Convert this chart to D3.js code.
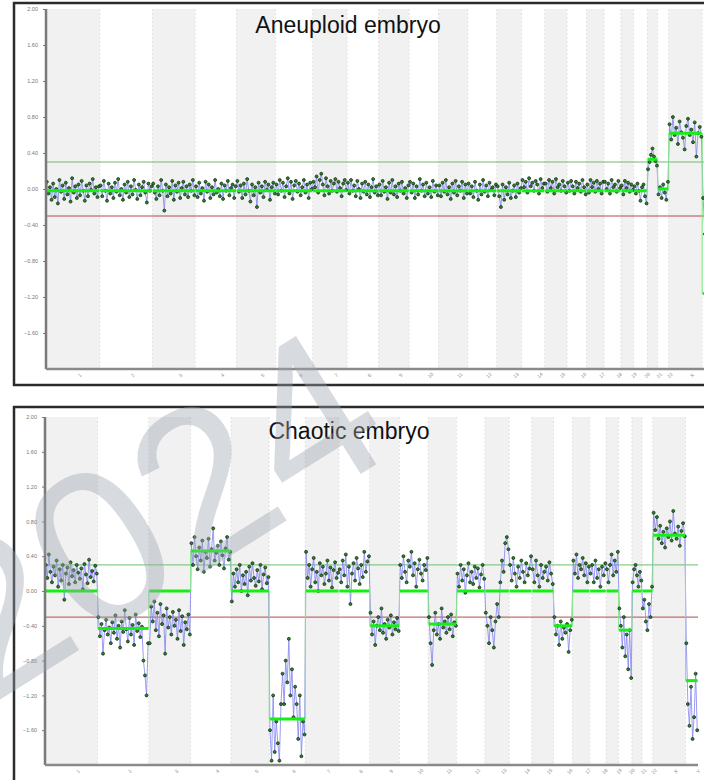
<!DOCTYPE html>
<meta charset="utf-8">
<style>
    body { margin: 0; background: #fff; }
    svg { display: block; font-family: 'Liberation Sans', Arial, sans-serif; }
</style>
<svg width="704" height="780"></svg>
<script src="https://d3js.org/d3.v7.min.js"></script>
<script>

    // chromosome names and sizes (Mb)
    const chroms = ["1", "2", "3", "4", "5", "6", "7", "8", "9", "10", "11", "12", "13", "14", "15", "16", "17", "18", "19", "20", "21", "22", "X", "Y"];
    const chromLen = [249, 243, 198, 191, 181, 171, 159, 146, 141, 136, 135, 134, 115, 107, 103, 90, 81, 78, 59, 63, 48, 51, 155, 59];
    const yTicks = [2.0, 1.6, 1.2, 0.8, 0.4, 0.0, -0.4, -0.8, -1.2, -1.6];
    const gainLine = 0.3, lossLine = -0.3;

    // aneuploid embryo: segment call per chromosome + log2 ratio points
    const aneuSegments = [-0.02, -0.02, -0.02, -0.02, -0.02, -0.02, -0.02, -0.02, -0.02, -0.02, -0.02, -0.02,
        -0.02, -0.02, -0.02, -0.02, -0.02, -0.02, -0.02, -0.02, 0.33, 0.0, 0.62, -1.16];
    const aneuPoints = [
        [0.08, -0.05, 0.02, -0.12, 0.06, -0.09, 0.0, -0.16, 0.1, -0.03, 0.04, -0.11, 0.07, -0.06, 0.01, -0.14, 0.12, -0.04, 0.03, -0.1, 0.05, -0.07, 0.09, -0.02, -0.13, 0.04, -0.08, 0.06, -0.01, 0.11, -0.05, 0.02, -0.09, 0.03],
        [0.04, -0.08, 0.09, -0.02, -0.13, 0.06, -0.05, 0.02, -0.1, 0.07, -0.03, 0.11, -0.07, 0.0, -0.12, 0.05, -0.04, 0.08, -0.09, 0.03, -0.06, 0.1, -0.01, -0.11, 0.05, -0.07, 0.02, 0.08, -0.04, -0.15, 0.06, -0.02, 0.03],
        [0.06, -0.04, -0.11, 0.03, -0.07, 0.1, -0.02, -0.24, 0.05, -0.08, 0.02, -0.05, 0.09, -0.12, 0.04, -0.03, 0.07, -0.1, 0.01, 0.08, -0.06, 0.03, -0.09, 0.05, -0.02, 0.1, -0.07],
        [0.03, -0.09, 0.07, -0.05, 0.01, -0.13, 0.08, -0.03, 0.05, -0.1, 0.02, -0.06, 0.1, -0.04, 0.0, -0.08, 0.06, -0.11, 0.04, -0.02, 0.09, -0.07, 0.01, 0.05, -0.1, 0.03],
        [0.09, -0.03, 0.04, -0.1, 0.06, -0.06, 0.11, -0.02, -0.14, 0.05, -0.07, 0.02, -0.2, 0.07, -0.04, 0.03, -0.09, 0.08, -0.01, 0.05, -0.12, 0.02, 0.07, -0.05],
        [0.05, -0.06, 0.1, -0.02, 0.07, -0.09, 0.03, 0.12, -0.05, 0.08, -0.11, 0.04, 0.09, -0.03, 0.06, -0.07, 0.02, 0.1, -0.04, 0.05, -0.1, 0.07, 0.0],
        [0.08, 0.02, 0.14, -0.04, 0.1, 0.17, 0.05, -0.07, 0.12, 0.03, -0.05, 0.09, -0.02, 0.06, 0.11, -0.03, 0.08, 0.01, -0.08, 0.06, 0.1, -0.01],
        [0.07, -0.05, 0.1, -0.02, 0.04, -0.08, 0.09, 0.0, -0.1, 0.06, -0.03, 0.08, -0.06, 0.05, -0.09, 0.02, 0.11, -0.04, 0.03, -0.07],
        [0.05, -0.07, 0.09, -0.03, 0.02, -0.11, 0.07, -0.04, 0.1, -0.06, 0.03, -0.09, 0.06, -0.02, 0.08, -0.05, 0.01, -0.1, 0.04],
        [0.08, -0.04, 0.06, -0.1, 0.03, -0.06, 0.11, -0.02, 0.05, -0.08, 0.07, -0.05, 0.02, -0.09, 0.09, -0.03, 0.04, -0.07],
        [0.04, -0.08, 0.07, -0.03, 0.1, -0.06, 0.02, -0.11, 0.06, -0.04, 0.09, -0.07, 0.03, -0.02, 0.08, -0.1, 0.05, -0.05],
        [0.06, -0.05, 0.03, -0.09, 0.08, -0.02, -0.12, 0.05, -0.06, 0.1, -0.03, 0.04, -0.08, 0.07, -0.01, 0.02, -0.07, 0.05],
        [0.03, -0.08, -0.2, 0.05, -0.12, 0.02, -0.06, 0.07, -0.1, -0.02, 0.04, -0.09, 0.06, -0.04, 0.01],
        [0.1, 0.02, 0.08, -0.04, 0.12, 0.03, 0.07, -0.02, 0.09, 0.05, -0.05, 0.11, 0.01, 0.06],
        [0.06, -0.03, 0.1, 0.01, 0.08, -0.05, 0.11, 0.02, 0.05, -0.02, 0.09, 0.03, -0.04],
        [0.07, -0.02, 0.09, 0.03, -0.05, 0.08, 0.01, 0.06, -0.03, 0.1, 0.02, -0.06],
        [0.05, -0.04, 0.1, 0.02, 0.07, -0.03, 0.09, 0.0, 0.06, -0.05, 0.08],
        [0.08, 0.0, 0.06, -0.05, 0.1, 0.02, 0.05, -0.03, 0.09, 0.01],
        [0.04, -0.06, 0.09, 0.01, 0.07, -0.03, 0.05, -0.01],
        [0.03, -0.05, 0.06, -0.02, -0.13, 0.02, 0.05, -0.08, -0.16],
        [0.22, 0.3, 0.38, 0.45, 0.36, 0.31, 0.26],
        [-0.06, 0.02, -0.1, 0.05, -0.04, -0.12, 0.08],
        [0.72, 0.55, 0.8, 0.6, 0.68, 0.5, 0.75, 0.63, 0.57, 0.44, 0.7, 0.78, 0.6, 0.66, 0.52, 0.74, 0.36, 0.62, 0.69, 0.58],
        [-0.1, -0.5, -0.9, -1.3, -1.6, -1.85, -1.4]
    ];

    // chaotic embryo
    const chaoSegments = [0.0, -0.43, 0.0, 0.46, 0.0, -1.47, 0.0, 0.0, -0.40, 0.0, -0.38, 0.0,
        0.0, 0.0, 0.0, -0.40, 0.0, 0.0, 0.0, -0.45, 0.0, 0.0, 0.64, -1.03];
    const chaoPoints = [
        [0.3, 0.15, 0.42, 0.22, 0.1, 0.28, 0.18, 0.35, 0.05, 0.25, 0.12, 0.3, -0.1, 0.2, 0.27, 0.08, 0.33, 0.17, 0.24, 0.1, 0.3, 0.21, 0.14, 0.26, 0.02, 0.31, 0.19, 0.09, 0.36, 0.16, 0.23, 0.11, 0.29, 0.2],
        [-0.3, -0.52, -0.38, -0.72, -0.45, -0.33, -0.5, -0.42, -0.6, -0.36, -0.48, -0.28, -0.55, -0.4, -0.65, -0.35, -0.47, -0.22, -0.44, -0.58, -0.31, -0.5, -0.39, -0.62, -0.27, -0.46, -0.37, -0.53, -0.41, -0.8, -0.97, -1.2, -0.6],
        [-0.6, -0.18, -0.35, -0.12, -0.45, -0.25, -0.52, -0.15, -0.38, -0.28, -0.72, -0.2, -0.42, -0.3, -0.5, -0.24, -0.4, -0.33, -0.55, -0.22, -0.46, -0.29, -0.62, -0.36, -0.44, -0.27, -0.5],
        [0.55, 0.3, 0.62, 0.4, 0.25, 0.5, 0.35, 0.58, 0.22, 0.45, 0.38, 0.6, 0.28, 0.48, 0.72, 0.35, 0.44, 0.52, 0.3, 0.57, 0.41, 0.26, 0.49, 0.62, 0.36, 0.45],
        [-0.12, 0.2, 0.05, 0.25, 0.1, 0.3, 0.0, 0.18, 0.08, 0.22, -0.05, 0.28, 0.12, 0.32, 0.15, 0.06, 0.24, 0.11, 0.3, 0.02, 0.19, 0.27, 0.09, 0.16],
        [-1.6, -1.95, -1.2, -1.85, -1.5, -1.75, -1.95, -1.3, -0.95, -1.3, -0.8, -1.05, -0.55, -1.2, -0.9, -1.45, -1.1, -1.3, -1.7, -1.2, -1.9, -1.5, -1.65],
        [0.45, 0.15, 0.3, 0.05, 0.25, 0.38, 0.1, 0.22, 0.0, 0.32, 0.18, 0.28, 0.08, 0.2, 0.35, 0.12, 0.27, 0.04, 0.24, 0.33, 0.15, 0.21],
        [0.25, 0.1, 0.35, 0.18, 0.42, 0.05, 0.28, -0.15, 0.2, 0.32, 0.12, 0.38, 0.26, 0.08, 0.3, 0.16, 0.45, 0.22, 0.34, 0.4],
        [-0.25, -0.5, -0.35, -0.62, -0.4, -0.3, -0.45, -0.2, -0.48, -0.38, -0.55, -0.33, -0.42, -0.28, -0.5, -0.36, -0.44, -0.31, -0.46],
        [0.3, 0.15, 0.4, 0.22, 0.1, 0.35, 0.28, 0.45, 0.18, 0.32, 0.05, 0.25, 0.36, 0.2, 0.12, 0.3, 0.24, 0.38],
        [-0.3, -0.6, -0.85, -0.45, -0.25, -0.5, -0.38, -0.55, -0.2, -0.42, -0.35, -0.48, -0.3, -0.44, -0.27, -0.52, -0.36, -0.4],
        [0.2, 0.05, 0.3, 0.12, 0.25, -0.02, 0.18, 0.32, 0.1, 0.22, 0.08, 0.28, 0.15, 0.26, 0.04, 0.19, 0.3, 0.14],
        [-0.25, -0.4, -0.6, -0.3, -0.45, -0.65, -0.35, -0.15, -0.3, 0.1, 0.35, 0.22, 0.55, 0.62, 0.48],
        [0.3, 0.12, 0.38, 0.2, 0.05, 0.28, 0.15, 0.35, 0.22, 0.1, 0.32, 0.18, 0.26, 0.4],
        [0.25, 0.1, 0.35, 0.18, 0.05, 0.3, 0.15, 0.22, 0.28, 0.12, 0.33, 0.2, 0.08],
        [-0.3, -0.5, -0.4, -0.62, -0.35, -0.55, -0.42, -0.48, -0.38, -0.7, -0.45, -0.33],
        [0.35, 0.2, 0.42, 0.15, 0.3, 0.25, 0.38, 0.18, 0.32, 0.1, 0.28],
        [0.2, 0.3, 0.1, 0.35, 0.15, 0.25, 0.05, 0.28, 0.18, 0.32],
        [0.25, 0.1, 0.3, 0.42, 0.18, 0.35, 0.22, 0.45],
        [-0.2, -0.4, -0.65, -0.3, -0.75, -0.5, -0.9, -0.45, -1.0],
        [0.1, 0.25, 0.3, 0.18, 0.05, 0.22, 0.12],
        [-0.2, -0.1, -0.35, -0.45, -0.15, -0.3, 0.05],
        [0.9, 0.7, 0.85, 0.6, 0.75, 0.55, 0.68, 0.5, 0.72, 0.62, 0.8, 0.58, 0.92, 0.66, 0.6, 0.74, 0.52, 0.69, 0.78, 0.63],
        [-0.6, -1.3, -1.55, -1.1, -1.7, -1.45, -0.95, -1.6]
    ];

    var svg = d3.select("svg");

    // cumulative genome offsets
    const starts = [];
    chromLen.reduce(function (acc, l) { starts.push(acc); return acc + l; }, 0);
    const genomeLen = d3.sum(chromLen);

    function drawPanel(opt) {
        const g = svg.append("g");
        const x = d3.scaleLinear().domain([0, genomeLen]).range([opt.x0, opt.x1]);
        const y = d3.scaleLinear().domain([-2, 2]).range([opt.yBottom, opt.yTop]);

        // frame
        g.append("rect")
            .attr("x", opt.frame[0]).attr("y", opt.frame[1])
            .attr("width", opt.frame[2]).attr("height", opt.frame[3])
            .attr("fill", "#fff").attr("stroke", "#2b2b2b").attr("stroke-width", 2.5);

        // alternating chromosome bands
        g.append("g").selectAll("rect")
            .data(chroms)
            .enter().append("rect")
            .attr("x", function (d, i) { return x(starts[i]); })
            .attr("y", y(2))
            .attr("width", function (d, i) { return x(starts[i] + chromLen[i]) - x(starts[i]); })
            .attr("height", y(-2) - y(2))
            .attr("fill", function (d, i) { return i % 2 === 0 ? "#f1f1f1" : "#fff"; });
        g.append("g").selectAll("line")
            .data(chroms.slice(1))
            .enter().append("line")
            .attr("x1", function (d, i) { return x(starts[i + 1]); })
            .attr("x2", function (d, i) { return x(starts[i + 1]); })
            .attr("y1", y(2)).attr("y2", y(-2))
            .attr("stroke", "#dcdcdc").attr("stroke-width", 0.8)
            .attr("stroke-dasharray", "2,2");

        // threshold lines
        g.append("line")
            .attr("x1", opt.x0).attr("x2", opt.x1)
            .attr("y1", y(gainLine)).attr("y2", y(gainLine))
            .attr("stroke", "#6dbd6d").attr("stroke-width", 1);
        g.append("line")
            .attr("x1", opt.x0).attr("x2", opt.x1)
            .attr("y1", y(lossLine)).attr("y2", y(lossLine))
            .attr("stroke", "#b24a4a").attr("stroke-width", 1);

        // flatten points, evenly spread across each chromosome
        const pts = [];
        opt.points.forEach(function (vals, ci) {
            vals.forEach(function (v, j) {
                pts.push({ pos: starts[ci] + (j + 0.5) / vals.length * chromLen[ci], v: v });
            });
        });

        // connecting trace
        g.append("path")
            .datum(pts)
            .attr("fill", "none")
            .attr("stroke", "#8282ee").attr("stroke-width", 1).attr("stroke-opacity", 0.8)
            .attr("d", d3.line().x(function (d) { return x(d.pos); }).y(function (d) { return y(d.v); }));

        // segment step line (thin)
        const steps = [];
        opt.segments.forEach(function (s, i) {
            steps.push({ pos: starts[i], v: s });
            steps.push({ pos: starts[i] + chromLen[i], v: s });
        });
        g.append("path")
            .datum(steps)
            .attr("fill", "none")
            .attr("stroke", "#86e886").attr("stroke-width", 1)
            .attr("d", d3.line().x(function (d) { return x(d.pos); }).y(function (d) { return y(d.v); }));

        // points
        g.append("g").selectAll("circle")
            .data(pts)
            .enter().append("circle")
            .attr("cx", function (d) { return x(d.pos); })
            .attr("cy", function (d) { return y(d.v); })
            .attr("r", 1.5)
            .attr("fill", "#2a862a")
            .attr("stroke", "#0a220a").attr("stroke-width", 0.7);

        // segment calls (thick)
        g.append("g").selectAll("line")
            .data(opt.segments)
            .enter().append("line")
            .attr("x1", function (d, i) { return x(starts[i]) + 0.5; })
            .attr("x2", function (d, i) { return x(starts[i] + chromLen[i]) - 0.5; })
            .attr("y1", function (d) { return y(d); })
            .attr("y2", function (d) { return y(d); })
            .attr("stroke", "#14ef14").attr("stroke-width", 3);

        // y axis
        const ya = g.append("g")
            .attr("transform", "translate(" + opt.x0 + ",0)")
            .call(d3.axisLeft(y).tickValues(yTicks).tickSize(3).tickFormat(d3.format(".2f")));
        ya.select(".domain").attr("stroke", "#7a7a7a").attr("stroke-width", 2.5)
            .attr("d", "M0," + y(2) + "V" + y(-2));
        ya.selectAll(".tick line").attr("stroke", "#7a7a7a");
        ya.selectAll("text").attr("font-size", 5.5).attr("fill", "#777").attr("x", -8);

        // x axis with chromosome names
        const centers = chroms.map(function (c, i) { return x(starts[i] + chromLen[i] / 2); });
        const xo = d3.scaleOrdinal().domain(chroms).range(centers);
        const xa = g.append("g")
            .attr("transform", "translate(0," + opt.yBottom + ")")
            .call(d3.axisBottom(xo).tickSize(0).tickPadding(7));
        xa.select(".domain").attr("stroke", "#8a8a8a").attr("stroke-width", 2.5)
            .attr("d", "M" + opt.x0 + ",0H" + opt.x1);
        xa.selectAll("text")
            .attr("font-size", 5).attr("fill", "#8a8a8a")
            .attr("transform", "rotate(-45)")
            .attr("text-anchor", "middle");

        // title
        g.append("text")
            .attr("x", opt.titleX).attr("y", opt.titleY)
            .attr("text-anchor", "middle")
            .attr("font-size", 23).attr("fill", "#111")
            .text(opt.title);
    }

    drawPanel({
        title: "Aneuploid embryo", titleX: 348, titleY: 33,
        frame: [14, 3, 720, 382],
        x0: 46, x1: 715, yTop: 9, yBottom: 369,
        segments: aneuSegments, points: aneuPoints
    });

    drawPanel({
        title: "Chaotic embryo", titleX: 349, titleY: 439,
        frame: [14, 407, 720, 400],
        x0: 45, x1: 698, yTop: 417, yBottom: 765,
        segments: chaoSegments, points: chaoPoints
    });

    // watermark
    svg.append("text")
        .attr("transform", "translate(152,515) rotate(-32)")
        .attr("text-anchor", "middle")
        .attr("dominant-baseline", "central")
        .attr("font-size", 220)
        .attr("fill", "#9aa5b0").attr("fill-opacity", 0.4)
        .text("2024");

</script>
